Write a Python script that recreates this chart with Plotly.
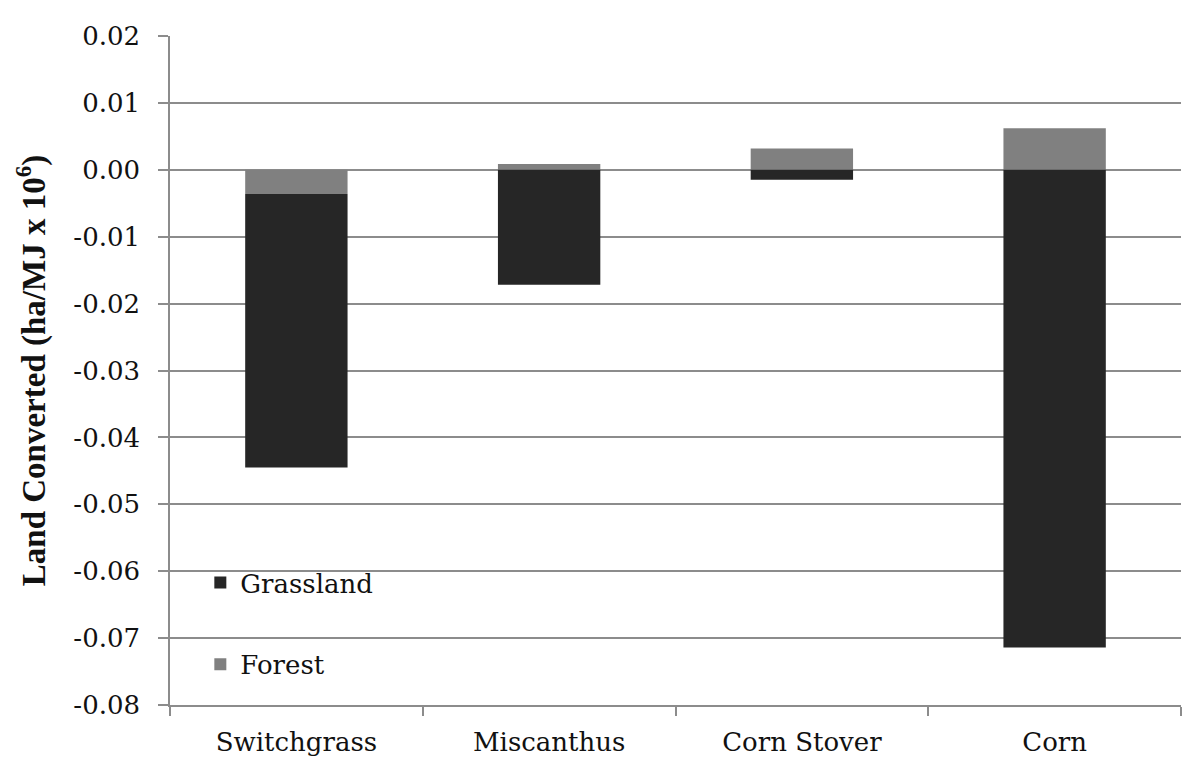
import plotly.graph_objects as go

categories = ["Switchgrass", "Miscanthus", "Corn Stover", "Corn"]
forest = [-0.0036, 0.00085, 0.0032, 0.0062]
grassland = [-0.0409, -0.0172, -0.0015, -0.0714]
y_ticks = [0.02, 0.01, 0.0, -0.01, -0.02, -0.03, -0.04, -0.05, -0.06, -0.07, -0.08]
y_tick_text = ["0.02", "0.01", "0.00", "-0.01", "-0.02", "-0.03", "-0.04", "-0.05", "-0.06", "-0.07", "-0.08"]

SERIF = "DejaVu Serif"
SERIF_BOLD = "Liberation Serif"
GRID = "#8c8c8c"
TXT = "#111111"

fig = go.Figure()
fig.add_trace(go.Bar(x=categories, y=forest, name="Forest", legendgroup="f", legendrank=2,
                     marker=dict(color="#808080", line=dict(width=0)), width=0.405))
fig.add_trace(go.Bar(x=categories, y=grassland, name="Grassland", legendgroup="g", legendrank=1,
                     marker=dict(color="#262626", line=dict(width=0)), width=0.405))

fig.update_layout(
    width=1192, height=761,
    barmode="relative",
    plot_bgcolor="white", paper_bgcolor="white",
    margin=dict(l=162, r=19, t=28, b=62),
    font=dict(family=SERIF, size=26, color=TXT),
    showlegend=True,
    legend=dict(
        x=0.03, y=0.218, xanchor="left", yanchor="top",
        traceorder="grouped", tracegroupgap=45,
        bgcolor="rgba(0,0,0,0)",
        font=dict(family=SERIF, size=26, color=TXT),
        itemwidth=30,
    ),
    xaxis=dict(
        showline=True, linecolor=GRID, linewidth=1.5,
        ticks="outside", tickson="boundaries", ticklen=9, tickcolor=GRID, tickwidth=1.5,
        tickfont=dict(family=SERIF, size=26, color=TXT),
        ticklabelstandoff=13,
        showgrid=False,
    ),
    yaxis=dict(
        range=[-0.08, 0.02],
        tickvals=y_ticks, ticktext=y_tick_text,
        showline=True, linecolor=GRID, linewidth=1.5,
        ticks="outside", ticklen=10, tickcolor=GRID, tickwidth=1.5,
        showgrid=True, gridcolor=GRID, gridwidth=1.5,
        zeroline=False,
        tickfont=dict(family=SERIF, size=26, color=TXT),
        ticklabelstandoff=13,
        title=dict(text="<b>Land Converted (ha/MJ x 10<sup>6</sup>)</b>",
                   font=dict(family=SERIF_BOLD, size=33, color=TXT), standoff=18),
    ),
)

fig.write_html("out.html")
